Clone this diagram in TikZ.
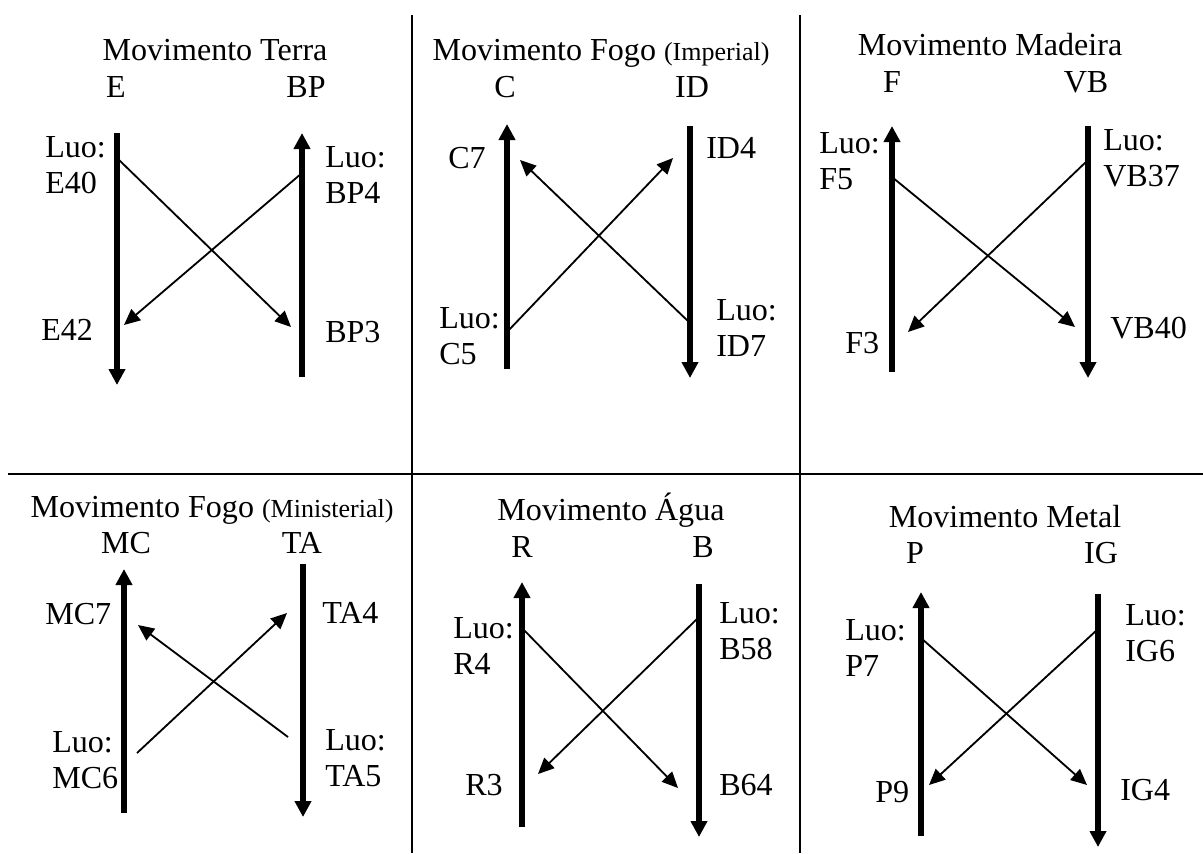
\documentclass[tikz,border=0pt]{standalone}
\usepackage{fontspec}
\setmainfont{Liberation Serif}
\usepackage{tikz}
\usetikzlibrary{arrows.meta}
\newcommand{\mainsize}{\fontsize{22.8pt}{26pt}\selectfont}
\newcommand{\smallsize}{\fontsize{18.5pt}{21pt}\selectfont}
\tikzset{
    meridian/.style={draw=black,line width=3.8pt,line cap=butt,
      -{Triangle[length=4mm,width=4mm]}},
    luoarrow/.style={draw=black,line width=1.3pt,line cap=butt,
      -{Triangle[length=4mm,width=3.6mm]}},
    divider/.style={draw=black,line width=1.1pt},
    titlelbl/.style={anchor=base,inner sep=0pt,font=\mainsize},
    headlbl/.style={anchor=base,inner sep=0pt,font=\mainsize},
    pointlbl/.style={anchor=base west,inner sep=0pt,align=left,font=\mainsize},
    luolbl/.style={pointlbl,yshift=-26pt}
}
\begin{document}
\begin{tikzpicture}[x=0.25mm,y=-0.25mm]
  \useasboundingbox[fill=white] (0,0) rectangle (1203,853);
  % grid
  \coordinate (vat) at (412,15);  \coordinate (vab) at (412,853);
  \coordinate (vbt) at (800,15);  \coordinate (vbb) at (800,853);
  \coordinate (hl) at (8,474);    \coordinate (hr) at (1203,474);
  \draw[divider] (vat)--(vab); \draw[divider] (vbt)--(vbb); \draw[divider] (hl)--(hr);

  % Terra
  \node[titlelbl] (tterra) at (215,60) {Movimento Terra};
  \node[headlbl] (he) at (116,97) {E};
  \node[headlbl] (hbp) at (306,97) {BP};
  \coordinate (e1) at (117,133);  \coordinate (e2) at (117,385);
  \coordinate (bp1) at (302,377); \coordinate (bp2) at (302,133);
  \draw[meridian] (e1)--(e2); \draw[meridian] (bp1)--(bp2);
  \coordinate (e40) at (117,158);  \coordinate (bp3) at (291,327);
  \coordinate (bp4) at (302,173);  \coordinate (e42) at (124,325);
  \draw[luoarrow] (e40)--(bp3); \draw[luoarrow] (bp4)--(e42);
  \node[luolbl] (le40) at (45,157) {Luo:\\E40};
  \node[pointlbl] (le42) at (41,340) {E42};
  \node[luolbl] (lbp4) at (325,167) {Luo:\\BP4};
  \node[pointlbl] (lbp3) at (325,342) {BP3};

  % Fogo (Imperial)
  \node[titlelbl] (tfogoi) at (601,60) {Movimento Fogo {\smallsize(Imperial)}};
  \node[headlbl] (hc) at (505,97) {C};
  \node[headlbl] (hid) at (692,97) {ID};
  \coordinate (c1) at (507,369);  \coordinate (c2) at (507,124);
  \coordinate (id1) at (690,126); \coordinate (id2) at (690,378);
  \draw[meridian] (c1)--(c2); \draw[meridian] (id1)--(id2);
  \coordinate (c5) at (507,332);  \coordinate (id4) at (673,158);
  \coordinate (id7) at (690,323); \coordinate (c7) at (520,160);
  \draw[luoarrow] (c5)--(id4); \draw[luoarrow] (id7)--(c7);
  \node[pointlbl] (lc7) at (448,168) {C7};
  \node[luolbl] (lc5) at (439,328) {Luo:\\C5};
  \node[pointlbl] (lid4) at (706,158) {ID4};
  \node[luolbl] (lid7) at (716,320) {Luo:\\ID7};

  % Madeira
  \node[titlelbl] (tmadeira) at (990,55) {Movimento Madeira};
  \node[headlbl] (hf) at (892,92) {F};
  \node[headlbl] (hvb) at (1086,92) {VB};
  \coordinate (f1) at (892,372);   \coordinate (f2) at (892,126);
  \coordinate (vb1) at (1088,126); \coordinate (vb2) at (1088,378);
  \draw[meridian] (f1)--(f2); \draw[meridian] (vb1)--(vb2);
  \coordinate (f5) at (892,177);    \coordinate (vb40) at (1075,327);
  \coordinate (vb37) at (1088,160); \coordinate (f3) at (908,332);
  \draw[luoarrow] (f5)--(vb40); \draw[luoarrow] (vb37)--(f3);
  \node[luolbl] (lf5) at (819,153) {Luo:\\F5};
  \node[pointlbl] (lf3) at (845,353) {F3};
  \node[luolbl] (lvb37) at (1103,150) {Luo:\\VB37};
  \node[pointlbl] (lvb40) at (1110,338) {VB40};

  % Fogo (Ministerial)
  \node[titlelbl] (tfogom) at (212,517) {Movimento Fogo {\smallsize(Ministerial)}};
  \node[headlbl] (hmc) at (126,553) {MC};
  \node[headlbl] (hta) at (302,553) {TA};
  \coordinate (mc1) at (124,813); \coordinate (mc2) at (124,569);
  \coordinate (ta1) at (303,564); \coordinate (ta2) at (303,817);
  \draw[meridian] (mc1)--(mc2); \draw[meridian] (ta1)--(ta2);
  \coordinate (mc6) at (137,753); \coordinate (ta4) at (287,613);
  \coordinate (ta5) at (288,737); \coordinate (mc7) at (138,625);
  \draw[luoarrow] (mc6)--(ta4); \draw[luoarrow] (ta5)--(mc7);
  \node[pointlbl] (lmc7) at (45,624) {MC7};
  \node[luolbl] (lmc6) at (52,752) {Luo:\\MC6};
  \node[pointlbl] (lta4) at (322,623) {TA4};
  \node[luolbl] (lta5) at (325,750) {Luo:\\TA5};

  % Agua
  \node[titlelbl] (tagua) at (611,520) {Movimento Água};
  \node[headlbl] (hr) at (522,557) {R};
  \node[headlbl] (hb) at (703,557) {B};
  \coordinate (r1) at (522,827); \coordinate (r2) at (522,582);
  \coordinate (b1) at (699,584); \coordinate (b2) at (699,837);
  \draw[meridian] (r1)--(r2); \draw[meridian] (b1)--(b2);
  \coordinate (r4) at (522,628);  \coordinate (b64) at (678,788);
  \coordinate (b58) at (699,617); \coordinate (r3) at (538,774);
  \draw[luoarrow] (r4)--(b64); \draw[luoarrow] (b58)--(r3);
  \node[luolbl] (lr4) at (453,638) {Luo:\\R4};
  \node[pointlbl] (lr3) at (465,795) {R3};
  \node[luolbl] (lb58) at (719,623) {Luo:\\B58};
  \node[pointlbl] (lb64) at (719,795) {B64};

  % Metal
  \node[titlelbl] (tmetal) at (1005,527) {Movimento Metal};
  \node[headlbl] (hp) at (915,563) {P};
  \node[headlbl] (hig) at (1101,563) {IG};
  \coordinate (p1) at (921,836);   \coordinate (p2) at (921,592);
  \coordinate (ig1) at (1098,594); \coordinate (ig2) at (1098,847);
  \draw[meridian] (p1)--(p2); \draw[meridian] (ig1)--(ig2);
  \coordinate (p7) at (921,638);   \coordinate (ig4) at (1087,785);
  \coordinate (ig6) at (1098,629); \coordinate (p9) at (929,785);
  \draw[luoarrow] (p7)--(ig4); \draw[luoarrow] (ig6)--(p9);
  \node[luolbl] (lp7) at (845,640) {Luo:\\P7};
  \node[pointlbl] (lp9) at (875,802) {P9};
  \node[luolbl] (lig6) at (1125,625) {Luo:\\IG6};
  \node[pointlbl] (lig4) at (1120,800) {IG4};
\end{tikzpicture}
\end{document}
